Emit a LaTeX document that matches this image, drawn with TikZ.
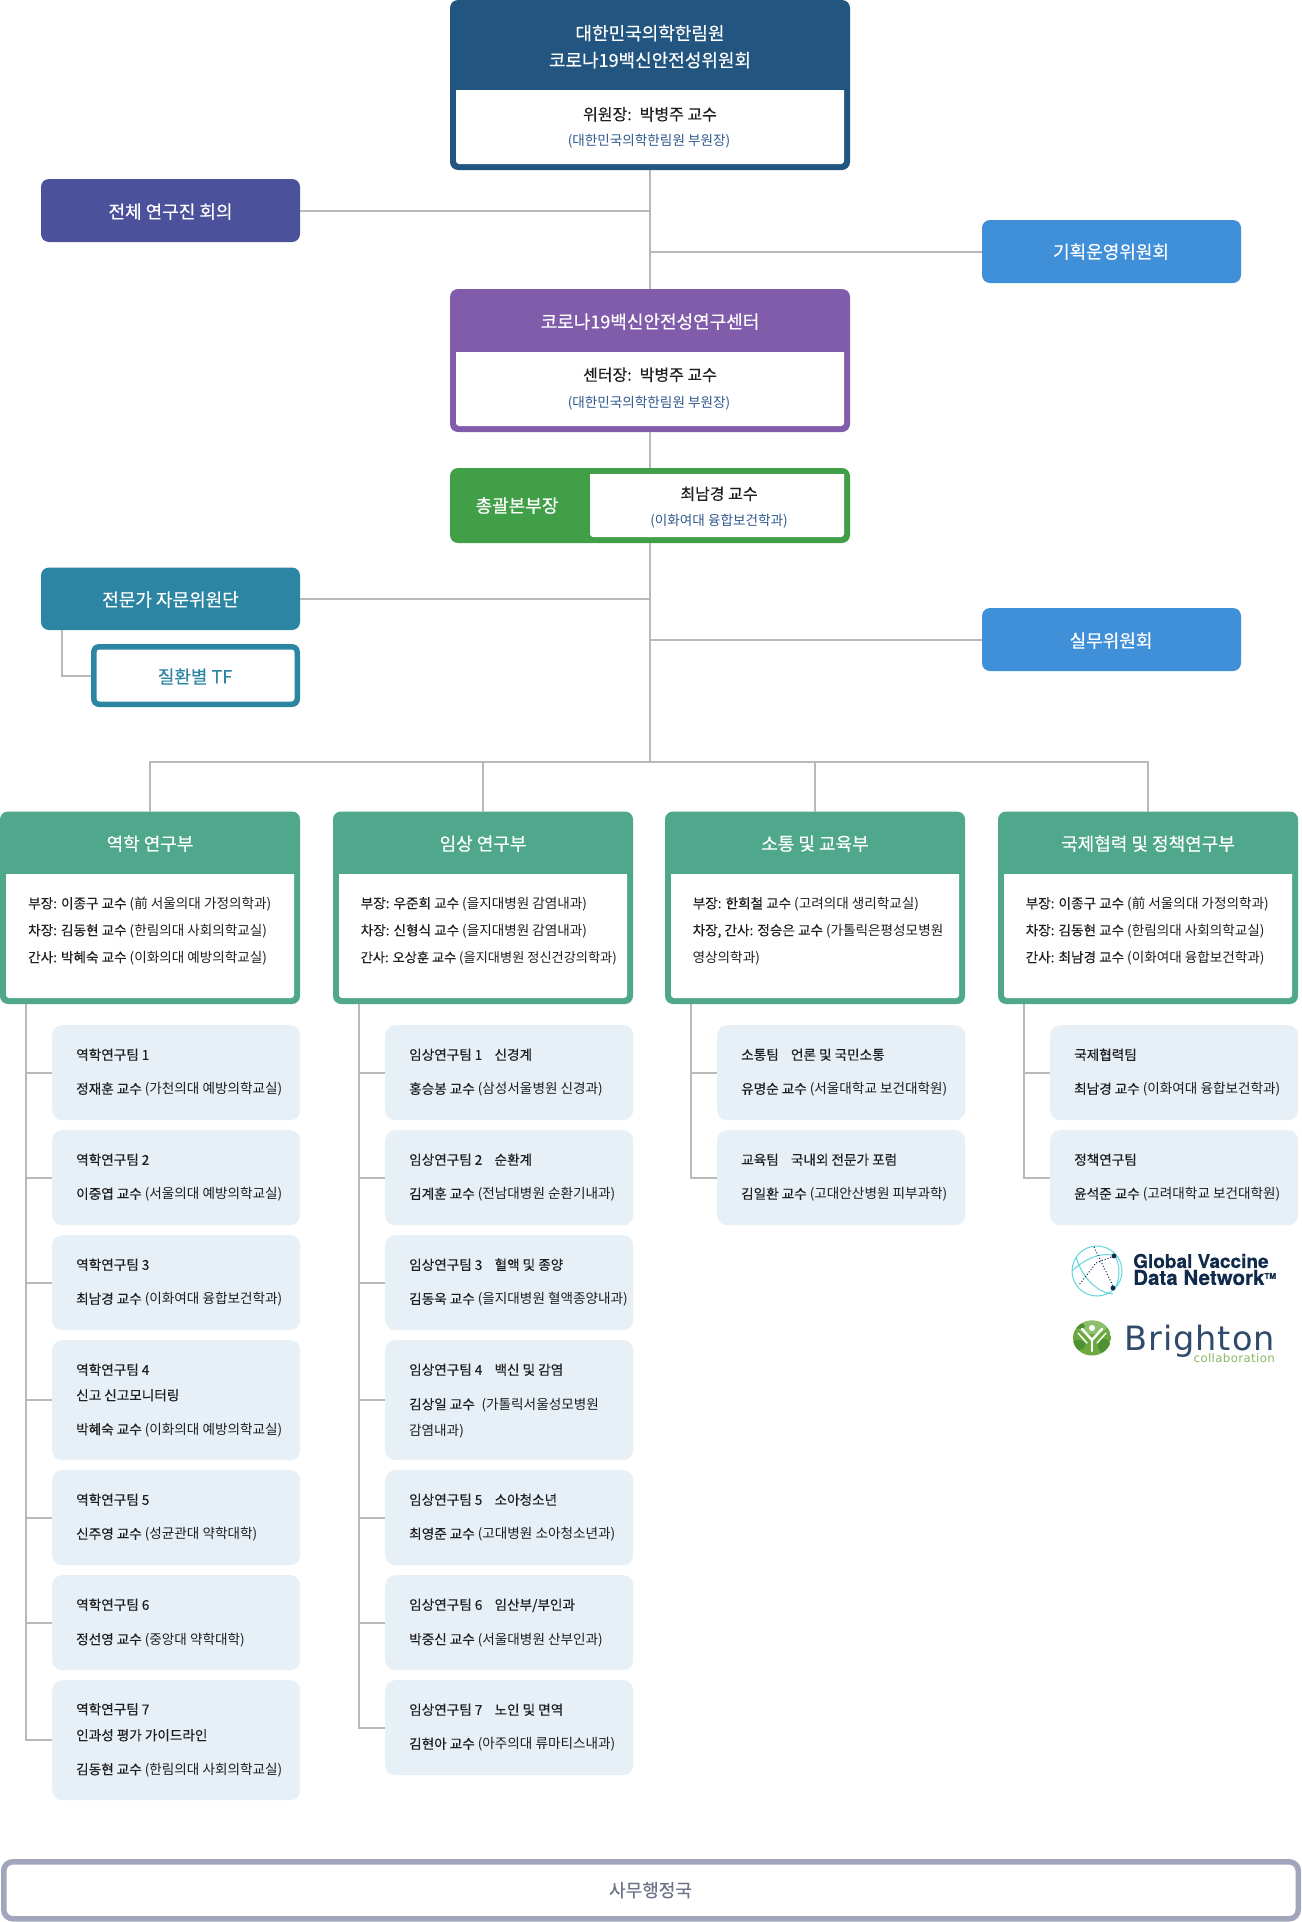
\documentclass[tikz,border=0pt]{standalone}
\usepackage{fontspec}
\setmainfont{Noto Sans CJK KR}
\newfontfamily\krmed[FakeBold=0.25]{Noto Sans CJK KR}
\newfontfamily\krhead[FakeBold=0.4]{Noto Sans CJK KR}
\newfontfamily\gvd[BoldFeatures={FakeBold=0.3}]{TeX Gyre Heros}
\newfontfamily\brt[LetterSpace=3]{DejaVu Sans}
\definecolor{cline}{HTML}{B9B9B9}
\definecolor{cblue}{HTML}{235581}
\definecolor{cpurple}{HTML}{815CAB}
\definecolor{cgreen}{HTML}{419F48}
\definecolor{cindigo}{HTML}{4B519B}
\definecolor{csky}{HTML}{3F8FD9}
\definecolor{cteal}{HTML}{2B85A3}
\definecolor{cdept}{HTML}{4FA78C}
\definecolor{cteam}{HTML}{E7F0F6}
\definecolor{csub}{HTML}{2F5A8E}
\definecolor{cink}{HTML}{1F1F1F}
\definecolor{coffice}{HTML}{A2A6BD}
\definecolor{cofftxt}{HTML}{6E7388}
\definecolor{cgvd}{HTML}{0F2A4A}
\definecolor{cglobe}{HTML}{62D6DC}
\definecolor{cbri}{HTML}{2F4A6B}
\definecolor{cbrig}{HTML}{6BA83F}
\definecolor{cbrid}{HTML}{4F9032}
\definecolor{cbril}{HTML}{8CC06A}
\tikzset{
  conn/.style={draw=cline,line width=2pt},
  panel/.style={rectangle,rounded corners=8pt,inner sep=0pt,anchor=north west,minimum width=#1,line width=0pt},
  tag/.style={inner sep=0pt,anchor=center,yshift=-1.7pt},
  leftlab/.style={inner sep=0pt,anchor=west,yshift=-1pt},
  teamfill/.style={rectangle,rounded corners=10pt,fill=cteam,inner sep=0pt,anchor=north west,minimum width=248pt},
}
\newcounter{tn}
\newcommand\fsz[1]{\fontsize{#1}{#1}\selectfont}
\newcommand\nmm[1]{{\krmed #1}}
% centred label
\newcommand\ctxt[5]{\stepcounter{tn}\node[tag,text=#4] (lab\thetn) at (#1,#2) {\fsz{#3}\vphantom{(한}#5};}
% left-aligned small label
\newcommand\lft[3]{\stepcounter{tn}\node[leftlab,text=cink] (lab\thetn) at (#1,#2) {\fsz{13.6}\vphantom{(한}#3};}
% filled panel
\newcommand\pnl[7]{\pgfmathsetmacro\boxh{#5-#4}\node[panel=#3 pt,fill=#6,minimum height=\boxh pt] (#1) at (#2,#4) {#7};}
% white inset with square top and rounded bottom
\newcommand\insetbox[4]{\fill[white] (#1,#3) -- (#2,#3) {[rounded corners=3pt] -- (#2,#4) -- (#1,#4)} -- cycle;}
\newcommand\tm[4]{\pgfmathsetmacro\boxh{#4-#3}\node[teamfill,minimum height=\boxh pt] (#1) at (#2,#3) {};}
\newcommand\dept[3]{%
  \pnl{#1}{#2}{300}{811.5}{1004}{cdept}{}
  \pgfmathsetmacro\xa{#2+6}\pgfmathsetmacro\xb{#2+294}\pgfmathsetmacro\xc{#2+150}
  \insetbox{\xa}{\xb}{874}{998}
  \ctxt{\xc}{843}{18}{white}{\krhead #3}
}
\begin{document}
\begin{tikzpicture}[x=1pt,y=-1pt]
\useasboundingbox (0,0) rectangle (1301,1922);
\fill[white] (0,0) rectangle (1301,1922);

% ---- top column
\pnl{top}{450}{400}{0}{170}{cblue}{}
\insetbox{456}{844}{90}{164}
\ctxt{650}{32.5}{18}{white}{\krhead 대한민국의학한림원}
\ctxt{650}{59.5}{18}{white}{\krhead 코로나19백신안전성위원회}
\ctxt{650}{113.5}{16}{cink}{\krmed 위원장:\hspace{0.5em}박병주 교수}
\ctxt{649}{139}{13.6}{csub}{(대한민국의학한림원 부원장)}

\pnl{center}{450}{400}{289}{432}{cpurple}{}
\insetbox{456}{844}{352}{426}
\ctxt{650}{321}{18}{white}{\krhead 코로나19백신안전성연구센터}
\ctxt{650}{374}{16}{cink}{\krmed 센터장:\hspace{0.5em}박병주 교수}
\ctxt{649}{401}{13.6}{csub}{(대한민국의학한림원 부원장)}

\pnl{chief}{450}{400}{468}{543}{cgreen}{}
\insetbox{590}{844}{474}{537}
\ctxt{517}{505}{18}{white}{\krhead 총괄본부장}
\ctxt{719}{493}{16}{cink}{\krmed 최남경 교수}
\ctxt{719}{519}{13.6}{csub}{(이화여대 융합보건학과)}

% ---- side boxes
\pnl{meet}{41}{259}{179}{242}{cindigo}{}
\ctxt{170.5}{211}{18}{white}{\krhead 전체 연구진 회의}
\pnl{plan}{982}{259}{220}{283}{csky}{}
\ctxt{1111}{251}{18}{white}{\krhead 기획운영위원회}
\pnl{advis}{41}{259}{567.5}{630}{cteal}{}
\ctxt{170.5}{599}{18}{white}{\krhead 전문가 자문위원단}
\pnl{tf}{91}{209}{644}{707}{cteal}{}
\fill[white,rounded corners=3pt] (96.5,649.5) rectangle (294.5,701.5);
\ctxt{195}{676}{18}{cteal}{\krhead 질환별 TF}
\pnl{work}{982}{259}{608}{671}{csky}{}
\ctxt{1111}{640}{18}{white}{\krhead 실무위원회}

% ---- departments
\dept{d1}{0}{역학 연구부}
\dept{d2}{333}{임상 연구부}
\dept{d3}{665}{소통 및 교육부}
\dept{d4}{998}{국제협력 및 정책연구부}

\lft{28}{903}{\nmm{부장: 이종구 교수} (前 서울의대 가정의학과)}
\lft{28}{930}{\nmm{차장: 김동현 교수} (한림의대 사회의학교실)}
\lft{28}{957}{\nmm{간사: 박혜숙 교수} (이화의대 예방의학교실)}
\lft{360.5}{903}{\nmm{부장: 우준희 교수} (을지대병원 감염내과)}
\lft{360.5}{930}{\nmm{차장: 신형식 교수} (을지대병원 감염내과)}
\lft{360.5}{957}{\fsz{13.2}\nmm{간사: 오상훈 교수} (을지대병원 정신건강의학과)}
\lft{692.5}{903}{\nmm{부장: 한희철 교수} (고려의대 생리학교실)}
\lft{692.5}{930}{\nmm{차장, 간사: 정승은 교수} (가톨릭은평성모병원}
\lft{692.5}{957}{영상의학과)}
\lft{1025.5}{903}{\nmm{부장: 이종구 교수} (前 서울의대 가정의학과)}
\lft{1025.5}{930}{\nmm{차장: 김동현 교수} (한림의대 사회의학교실)}
\lft{1025.5}{957}{\nmm{간사: 최남경 교수} (이화여대 융합보건학과)}

% ---- teams, column 1
\tm{a1}{52}{1025}{1120}
\tm{a2}{52}{1130}{1225}
\tm{a3}{52}{1235}{1330}
\tm{a4}{52}{1340}{1460}
\tm{a5}{52}{1470}{1565}
\tm{a6}{52}{1575}{1670}
\tm{a7}{52}{1680}{1800}
\lft{76}{1054.5}{\nmm{역학연구팀 1}}
\lft{76}{1088.5}{\nmm{정재훈 교수} (가천의대 예방의학교실)}
\lft{76}{1159.5}{\nmm{역학연구팀 2}}
\lft{76}{1193.5}{\nmm{이중엽 교수} (서울의대 예방의학교실)}
\lft{76}{1264.5}{\nmm{역학연구팀 3}}
\lft{76}{1298.5}{\nmm{최남경 교수} (이화여대 융합보건학과)}
\lft{76}{1369.5}{\nmm{역학연구팀 4}}
\lft{76}{1395}{\nmm{신고 신고모니터링}}
\lft{76}{1429}{\nmm{박혜숙 교수} (이화의대 예방의학교실)}
\lft{76}{1499.5}{\nmm{역학연구팀 5}}
\lft{76}{1533.5}{\nmm{신주영 교수} (성균관대 약학대학)}
\lft{76}{1604.5}{\nmm{역학연구팀 6}}
\lft{76}{1639}{\nmm{정선영 교수} (중앙대 약학대학)}
\lft{76}{1709}{\nmm{역학연구팀 7}}
\lft{76}{1735}{\nmm{인과성 평가 가이드라인}}
\lft{76}{1769}{\nmm{김동현 교수} (한림의대 사회의학교실)}

% ---- teams, column 2
\tm{b1}{385}{1025}{1120}
\tm{b2}{385}{1130}{1225}
\tm{b3}{385}{1235}{1330}
\tm{b4}{385}{1340}{1460}
\tm{b5}{385}{1470}{1565}
\tm{b6}{385}{1575}{1670}
\tm{b7}{385}{1680}{1775}
\lft{409}{1054.5}{\nmm{임상연구팀 1\hspace{0.9em}신경계}}
\lft{409}{1088.5}{\nmm{홍승봉 교수} (삼성서울병원 신경과)}
\lft{409}{1159.5}{\nmm{임상연구팀 2\hspace{0.9em}순환계}}
\lft{409}{1193.5}{\nmm{김계훈 교수} (전남대병원 순환기내과)}
\lft{409}{1264.5}{\nmm{임상연구팀 3\hspace{0.9em}혈액 및 종양}}
\lft{409}{1298.5}{\nmm{김동욱 교수} (을지대병원 혈액종양내과)}
\lft{409}{1369.5}{\nmm{임상연구팀 4\hspace{0.9em}백신 및 감염}}
\lft{409}{1404}{\nmm{김상일 교수}\hspace{0.5em}(가톨릭서울성모병원}
\lft{409}{1430}{감염내과)}
\lft{409}{1499.5}{\nmm{임상연구팀 5\hspace{0.9em}소아청소년}}
\lft{409}{1533.5}{\nmm{최영준 교수} (고대병원 소아청소년과)}
\lft{409}{1604.5}{\nmm{임상연구팀 6\hspace{0.9em}임산부/부인과}}
\lft{409}{1639}{\nmm{박중신 교수} (서울대병원 산부인과)}
\lft{409}{1709.5}{\nmm{임상연구팀 7\hspace{0.9em}노인 및 면역}}
\lft{409}{1743.5}{\nmm{김현아 교수} (아주의대 류마티스내과)}

% ---- teams, columns 3 and 4
\tm{c1}{717}{1025}{1120}
\tm{c2}{717}{1130}{1225}
\lft{741}{1054.5}{\nmm{소통팀\hspace{0.9em}언론 및 국민소통}}
\lft{741}{1088.5}{\nmm{유명순 교수} (서울대학교 보건대학원)}
\lft{741}{1159.5}{\nmm{교육팀\hspace{0.9em}국내외 전문가 포럼}}
\lft{741}{1193.5}{\nmm{김일환 교수} (고대안산병원 피부과학)}
\tm{e1}{1050}{1025}{1120}
\tm{e2}{1050}{1130}{1225}
\lft{1074}{1054.5}{\nmm{국제협력팀}}
\lft{1074}{1088.5}{\nmm{최남경 교수} (이화여대 융합보건학과)}
\lft{1074}{1159.5}{\nmm{정책연구팀}}
\lft{1074}{1193.5}{\nmm{윤석준 교수} (고려대학교 보건대학원)}

% ---- office bar
\node[rectangle,rounded corners=9pt,draw=coffice,line width=5.5pt,fill=white,minimum width=1294.5pt,minimum height=57pt,inner sep=0pt,outer sep=0pt,anchor=north west] (office) at (3.75,1861.75) {};
\ctxt{650.5}{1889.5}{18}{cofftxt}{\krmed 사무행정국}

% ---- connectors
\coordinate (bus) at (650,762);
\draw[conn] (top.south) -- (center.north);
\draw[conn] (center.south) -- (chief.north);
\draw[conn] (chief.south) -- (bus);
\draw[conn] (meet.east) -- (meet.east -| top.south);
\draw[conn] (plan.west) -- (plan.west -| top.south);
\draw[conn] (advis.east) -- (advis.east -| top.south);
\draw[conn] (work.west) -- (work.west -| top.south);
\draw[conn] (d1.north) |- (bus);
\draw[conn] (d4.north) |- (bus);
\draw[conn] (d2.north) -- (d2.north |- bus);
\draw[conn] (d3.north) -- (d3.north |- bus);
\coordinate (tfdrop) at (62,630);
\draw[conn] (tfdrop) |- (tf.west);
\coordinate (s1) at (26,1004);
\coordinate (s2) at (359,1004);
\coordinate (s3) at (691,1004);
\coordinate (s4) at (1024,1004);
\draw[conn] (s1) |- (a7.west);
\foreach \t in {a1,a2,a3,a4,a5,a6} \draw[conn] (\t.west) -- (\t.west -| s1);
\draw[conn] (s2) |- (b7.west);
\foreach \t in {b1,b2,b3,b4,b5,b6} \draw[conn] (\t.west) -- (\t.west -| s2);
\draw[conn] (s3) |- (c2.west);
\draw[conn] (c1.west) -- (c1.west -| s3);
\draw[conn] (s4) |- (e2.west);
\draw[conn] (e1.west) -- (e1.west -| s4);

% ---- Global Vaccine Data Network logo
\begin{scope}[line width=1pt,draw=cglobe]
  \draw (1097,1271) circle[radius=25pt];
  \draw (1072,1271) .. controls (1088,1256) and (1104,1252) .. (1116,1256);
  \draw (1076,1257) .. controls (1083,1280) and (1099,1293) .. (1113,1294);
  \draw (1113,1252) .. controls (1122,1265) and (1120,1282) .. (1113,1291);
\end{scope}
\begin{scope}[line width=1pt,draw=cgvd,dotted]
  \draw (1094,1247) -- (1114,1288);
  \draw (1114,1256) -- (1096,1263) -- (1079,1285);
\end{scope}
\fill[cgvd] (1114,1256) circle[radius=2.4pt];
\fill[cgvd] (1113,1288) circle[radius=2.4pt];
\node[inner sep=0pt,anchor=west,text=cgvd] (gv1) at (1133,1261) {\gvd\bfseries\fsz{19}Global Vaccine};
\node[inner sep=0pt,anchor=west,text=cgvd] (gv2) at (1133,1277.5) {\gvd\bfseries\fsz{20.5}Data Network\raisebox{6pt}{\fsz{8}TM}};

% ---- Brighton logo
\begin{scope}
  \clip (1092,1338) ellipse[x radius=19pt,y radius=17.5pt];
  \fill[cbrig] (1073,1320) rectangle (1111,1356);
  \fill[cbril] (1092,1326) ellipse[x radius=15pt,y radius=8pt];
  \fill[cbrid] (1078,1345) ellipse[x radius=7pt,y radius=5pt];
  \fill[cbrid] (1104,1346) ellipse[x radius=6pt,y radius=7pt];
  \fill[cbrid] (1080,1326) ellipse[x radius=5pt,y radius=3pt];
\end{scope}
\begin{scope}[white,line width=2.4pt,line cap=round]
  \fill (1092,1328) circle[radius=3pt];
  \draw (1092,1339) -- (1092,1351);
  \draw (1092,1340) -- (1082,1329);
  \draw (1092,1340) -- (1102,1329);
  \draw[line width=1.4pt] (1087,1343) -- (1078,1333);
  \draw[line width=1.4pt] (1097,1343) -- (1106,1333);
\end{scope}
\node[inner sep=0pt,anchor=east,text=cbri] (bri1) at (1275,1341) {\brt\fsz{33.5}Brighton};
\node[inner sep=0pt,anchor=east,text=cbrig!80!white] (bri2) at (1275,1358.5) {\brt\fsz{11.8}collaboration};
\end{tikzpicture}
\end{document}
